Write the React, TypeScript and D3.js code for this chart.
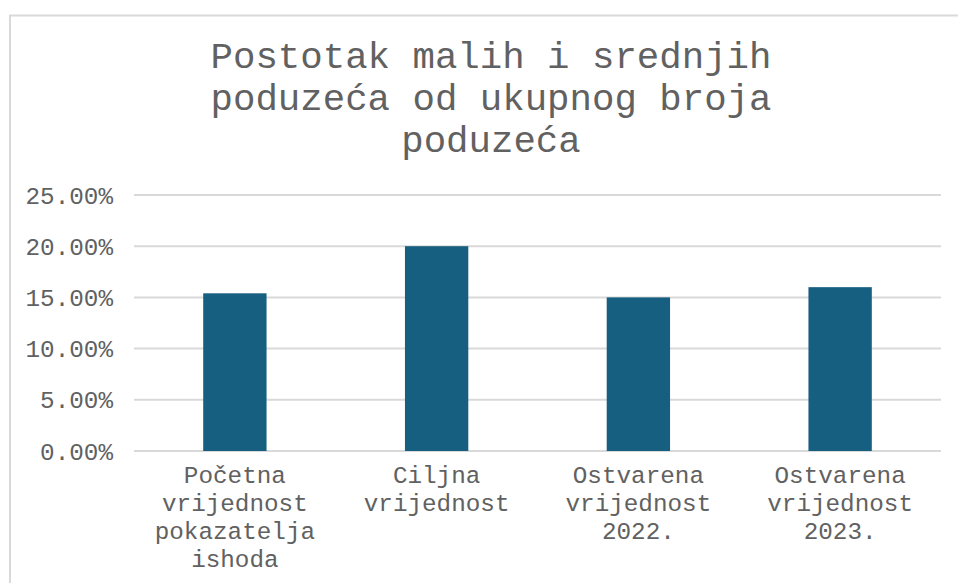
import React from "react";
import * as d3 from "d3";

const titleLines = ["Postotak malih i srednjih", "poduzeća od ukupnog broja", "poduzeća"];
const categories = [
  ["Početna", "vrijednost", "pokazatelja", "ishoda"],
  ["Ciljna", "vrijednost"],
  ["Ostvarena", "vrijednost", "2022."],
  ["Ostvarena", "vrijednost", "2023."],
];
const values = [0.154, 0.2, 0.15, 0.16];
const yTicks = [0, 0.05, 0.1, 0.15, 0.2, 0.25];

const W = 958;
const H = 583;
const FONT = "'Liberation Mono', 'Courier New', monospace";
const TEXT = "#616161";

export default function App() {
  const x = d3
    .scaleBand<number>()
    .domain(categories.map((_, i) => i))
    .range([134, 941])
    .paddingInner(0.686)
    .paddingOuter(0.343);
  const y = d3.scaleLinear().domain([0, 0.25]).range([451, 195]);
  const fmt = d3.format(".2%");

  return (
    <svg
      width={W}
      height={H}
      style={{ position: "absolute", left: 0, top: 0, background: "#fff" }}
    >
      <rect x={10} y={15.5} width={W + 20} height={H + 20} fill="#fff" stroke="#d9d9d9" strokeWidth={2} />
      <g fontFamily={FONT} fill={TEXT}>
        {titleLines.map((t, i) => (
          <text key={i} x={491} y={67.5 + i * 42} fontSize={37.4} textAnchor="middle">
            {t}
          </text>
        ))}
      </g>
      <g>
        {yTicks.map((t) => (
          <line key={t} x1={134} x2={941} y1={y(t)} y2={y(t)} stroke="#d9d9d9" strokeWidth={2} />
        ))}
      </g>
      <g fontFamily={FONT} fill={TEXT} fontSize={24.3}>
        {yTicks.map((t) => (
          <text key={t} x={113} y={y(t)} dy="0.35em" textAnchor="end">
            {fmt(t)}
          </text>
        ))}
      </g>
      <g>
        {values.map((v, i) => (
          <rect
            key={i}
            x={x(i)}
            y={y(v)}
            width={x.bandwidth()}
            height={y(0) - y(v)}
            fill="#175f80"
          />
        ))}
      </g>
      <g fontFamily={FONT} fill={TEXT} fontSize={24.3}>
        {categories.map((lines, i) => (
          <text key={i} x={(x(i) as number) + x.bandwidth() / 2} y={483} textAnchor="middle">
            {lines.map((l, j) => (
              <tspan key={j} x={(x(i) as number) + x.bandwidth() / 2} y={483 + j * 28}>
                {l}
              </tspan>
            ))}
          </text>
        ))}
      </g>
    </svg>
  );
}
